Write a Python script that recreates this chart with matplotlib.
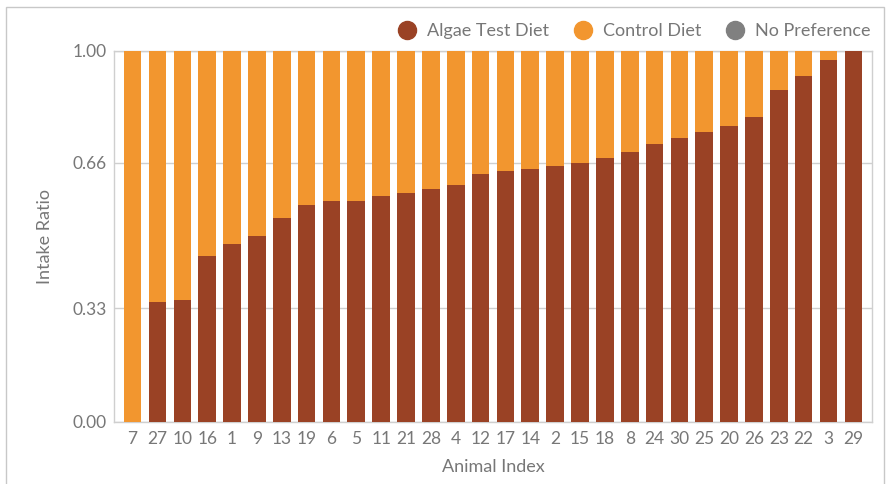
import matplotlib
matplotlib.use("Agg")
import matplotlib.pyplot as plt
from matplotlib.lines import Line2D
from matplotlib.patches import Rectangle

plt.rcParams['font.family'] = ['Lato', 'DejaVu Sans']

animals = ["7", "27", "10", "16", "1", "9", "13", "19", "6", "5", "11", "21", "28", "4", "12",
           "17", "14", "2", "15", "18", "8", "24", "30", "25", "20", "26", "23", "22", "3", "29"]
algae = [0.0, 0.322, 0.327, 0.447, 0.478, 0.500, 0.550, 0.584, 0.596, 0.595, 0.609, 0.617, 0.628, 0.637, 0.668,
         0.675, 0.682, 0.690, 0.698, 0.711, 0.728, 0.748, 0.765, 0.780, 0.797, 0.820, 0.895, 0.931, 0.976, 1.0]
control = [1 - a for a in algae]

tick_pos = [0.0, 0.306, 0.698, 1.0]
tick_labels = ["0.00", "0.33", "0.66", "1.00"]

brown = "#9A4225"
orange = "#F2962F"
gray = "#808080"
txt = "#777777"
line = "#cfcfcf"

fig = plt.figure(figsize=(8.91, 4.84), dpi=100)
W, H = 891, 484
ax = fig.add_axes([114 / W, 1 - 421.7 / H, (872 - 114) / W, (421.7 - 50.7) / H])

x = range(len(animals))
ax.bar(x, algae, width=0.71, color=brown, zorder=3)
ax.bar(x, control, bottom=algae, width=0.71, color=orange, zorder=3)

ax.set_xlim(-0.75, len(animals) - 0.25)
ax.set_ylim(0, 1)
ax.set_yticks(tick_pos)
ax.set_yticklabels(tick_labels)
ax.set_xticks(list(x))
ax.set_xticklabels(animals)
ax.tick_params(axis='both', length=0, colors=txt, labelsize=12.5)
ax.tick_params(axis='y', pad=5)
ax.tick_params(axis='x', pad=7)
ax.grid(axis='y', color=line, linewidth=1, zorder=0)
for s in ax.spines.values():
    s.set_color(line)
    s.set_linewidth(1)

ax.set_xlabel("Animal Index", color=txt, fontsize=13, labelpad=8)
ax.set_ylabel("Intake Ratio", color=txt, fontsize=13, labelpad=14)

handles = [Line2D([], [], marker='o', linestyle='', markersize=13, color=c) for c in (brown, orange, gray)]
fig.legend(handles, ["Algae Test Diet", "Control Diet", "No Preference"], loc='upper right',
           bbox_to_anchor=(887 / W, 1 - 7 / H), ncol=3, frameon=False, fontsize=13,
           handletextpad=0.1, columnspacing=0.9, labelcolor=txt)

fig.patches.append(Rectangle((6 / W, -0.1), (884 - 6) / W, 1.1 - 7 / H, transform=fig.transFigure,
                             fill=False, edgecolor="#c8c8c8", linewidth=1))

fig.savefig("out.png", dpi=100, facecolor="white")
